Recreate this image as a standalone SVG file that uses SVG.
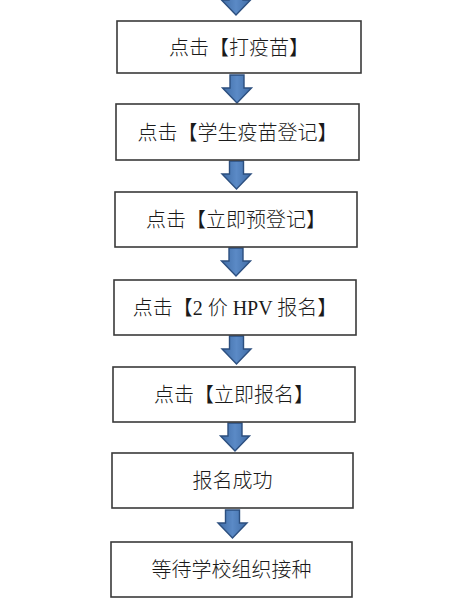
<svg xmlns="http://www.w3.org/2000/svg" width="456" height="616" viewBox="0 0 456 616">
<style>
.box{fill:#fff;stroke:#3a3a3a;stroke-width:1.6}
.lbl{font-family:"Liberation Serif","Noto Sans CJK SC",serif;font-size:20px;font-weight:300;fill:#1a1a1a;text-anchor:middle;dominant-baseline:central}
.arr{fill:url(#g);stroke:#2c4f7f;stroke-width:1.4;stroke-linejoin:miter}
</style>
<defs>
<linearGradient id="g" x1="0" y1="0" x2="1" y2="0">
<stop offset="0" stop-color="#3f6ca6"/>
<stop offset="0.5" stop-color="#5b8ac6"/>
<stop offset="1" stop-color="#3f6ca6"/>
</linearGradient>
<path id="a" d="M-7,0 H7 V13 H14.5 L0,28 L-14.5,13 H-7 Z"/>
</defs>
<rect width="456" height="616" fill="#fff"/>
<g id="connectors">
<use href="#a" class="arr" transform="translate(236,-13)"/>
<use href="#a" class="arr" transform="translate(237,75)"/>
<use href="#a" class="arr" transform="translate(236.5,161)"/>
<use href="#a" class="arr" transform="translate(236,248)"/>
<use href="#a" class="arr" transform="translate(236.5,336)"/>
<use href="#a" class="arr" transform="translate(235,423)"/>
<use href="#a" class="arr" transform="translate(232.5,510)"/>
</g>
<g id="n1"><rect class="box" x="117" y="21" width="244" height="52"/><text class="lbl" x="239" y="48">点击【打疫苗】</text></g>
<g id="n2"><rect class="box" x="116" y="104" width="243" height="56"/><text class="lbl" x="237.5" y="133">点击【学生疫苗登记】</text></g>
<g id="n3"><rect class="box" x="115" y="192" width="242" height="55"/><text class="lbl" x="236" y="220">点击【立即预登记】</text></g>
<g id="n4"><rect class="box" x="114" y="280" width="242" height="55"/><text class="lbl" x="235" y="308">点击【2 价 HPV 报名】</text></g>
<g id="n5"><rect class="box" x="113" y="367" width="242" height="55"/><text class="lbl" x="234" y="395">点击【立即报名】</text></g>
<g id="n6"><rect class="box" x="112" y="453" width="241" height="55"/><text class="lbl" x="232.5" y="481">报名成功</text></g>
<g id="n7"><rect class="box" x="111" y="542" width="241" height="55"/><text class="lbl" x="231.5" y="570">等待学校组织接种</text></g>
</svg>
